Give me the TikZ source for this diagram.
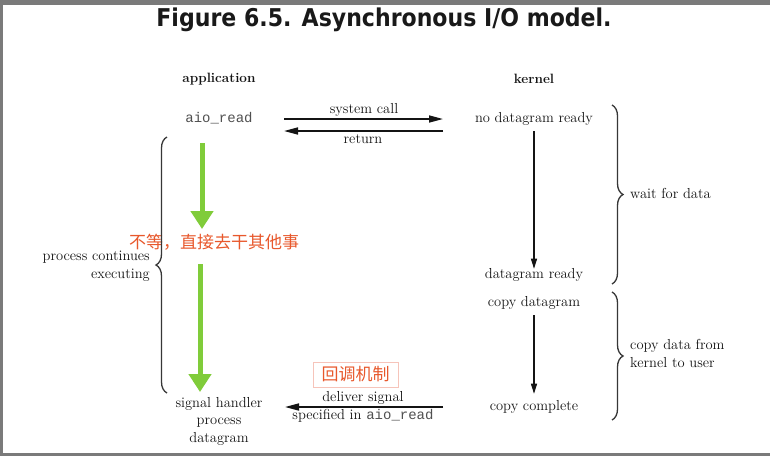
\documentclass[tikz,border=0pt]{standalone}
\usepackage{fontspec}
\newfontfamily\titlefont{DejaVu Sans}
\newfontfamily\cjkfont{Noto Sans CJK SC}
\setmonofont{Liberation Mono}
\usetikzlibrary{arrows.meta, decorations.pathreplacing}
\definecolor{aioInk}{RGB}{20,20,20}
\definecolor{aioGreen}{RGB}{128,204,58}
\definecolor{aioNote}{RGB}{232,88,44}
\definecolor{aioNoteBox}{RGB}{246,196,186}
\definecolor{aioFrame}{RGB}{122,122,122}
\definecolor{aioMono}{RGB}{80,80,80}

\begin{document}
\begin{tikzpicture}[x=1pt, y=-1pt,
    lbl/.style={font=\fontsize{14.5}{17.5}\selectfont, text=aioInk, anchor=base, inner sep=2pt, align=center},
    head/.style={lbl, font=\fontsize{13.5}{16}\selectfont\bfseries},
    code/.style={font=\ttfamily\fontsize{14}{17}\selectfont, text=aioMono},
    msg/.style={draw=aioInk, line width=1.6pt, -{Triangle[length=14pt,width=7pt]}},
    flow/.style={draw=aioInk, line width=1.1pt, -{Triangle[length=10pt,width=6pt]}},
    hint/.style={draw=aioGreen, line width=5pt, -{Triangle[length=18pt,width=22pt]}},
    note/.style={font=\cjkfont\fontsize{17}{20}\selectfont, text=aioNote, anchor=base},
    brace/.style={draw=aioInk!85, line width=1.3pt, decorate, decoration={brace, amplitude=11pt}}
  ]
    \useasboundingbox (0,0) rectangle (770,456);
    \fill[white] (0,0) rectangle (770,456);
    \fill[aioFrame] (0,0) rectangle (770,5);
    \fill[aioFrame] (0,0) rectangle (3,456);
    \fill[aioFrame] (0,453) rectangle (770,456);

    \node[font=\titlefont\bfseries\fontsize{24.5}{28}\selectfont, text=black!90, anchor=base] (title) at (384,26) {\scalebox{0.9}[1]{Figure 6.5. Asynchronous I/O model.}};

    \node[head] (app) at (219,82) {application};
    \node[head] (kern) at (534,83) {kernel};

    \node[lbl, code] (aio) at (219,122) {aio\_read};
    \node[lbl] (syscall) at (364,113) {system call};
    \node[lbl] (ret) at (363,143) {return};
    \node[lbl] (nodg) at (534,122) {no datagram ready};
    \node[lbl] (dgr) at (534,278) {datagram ready};
    \node[lbl] (cpdg) at (534,306) {copy datagram};
    \node[lbl] (cpok) at (534,410) {copy complete};
    \node[lbl] (sigh) at (219,442) {signal handler\\process\\datagram};
    \node[lbl] (deliver) at (363,419) {deliver signal\\specified in {\ttfamily\fontsize{14}{17}\selectfont\color{aioMono}aio\_read}};
    \node[lbl, anchor=base east, align=right] (cont) at (152,278) {process continues\\executing};
    \node[lbl, anchor=base west, align=left] (waitlbl) at (628,198) {wait for data};
    \node[lbl, anchor=base west, align=left] (copylbl) at (628,367) {copy data from\\kernel to user};

    \node[note] (skip) at (214,248) {不等，直接去干其他事};
    \node[note, anchor=center, draw=aioNoteBox, line width=0.8pt, inner sep=0pt, minimum width=85pt, minimum height=25pt] (callback) at (355.5,374.5) {回调机制};

    \coordinate (sysL) at (284,119);
    \coordinate (sysR) at (443,119);
    \coordinate (retR) at (443,131);
    \coordinate (retL) at (284,131);
    \coordinate (sigR) at (443,407);
    \coordinate (sigL) at (285,407);
    \draw[msg] (sysL) -- (sysR);
    \draw[msg] (retR) -- (retL);
    \draw[msg] (sigR) -- (sigL);

    \draw[flow, shorten <=4pt, shorten >=-3pt] (nodg) -- (dgr);
    \draw[flow, shorten <=4pt, shorten >=4pt] (cpdg) -- (cpok);

    \coordinate (g1s) at (202,143);
    \coordinate (g1e) at (202,229);
    \coordinate (g2s) at (200,264);
    \coordinate (g2e) at (200,392);
    \draw[hint] (g1s) -- (g1e);
    \draw[hint] (g2s) -- (g2e);

    \draw[brace] (612,105) -- (612,284);
    \draw[brace] (612,292) -- (612,420);
    \draw[brace] (167,393) -- (167,137);
  \end{tikzpicture}
\end{document}
